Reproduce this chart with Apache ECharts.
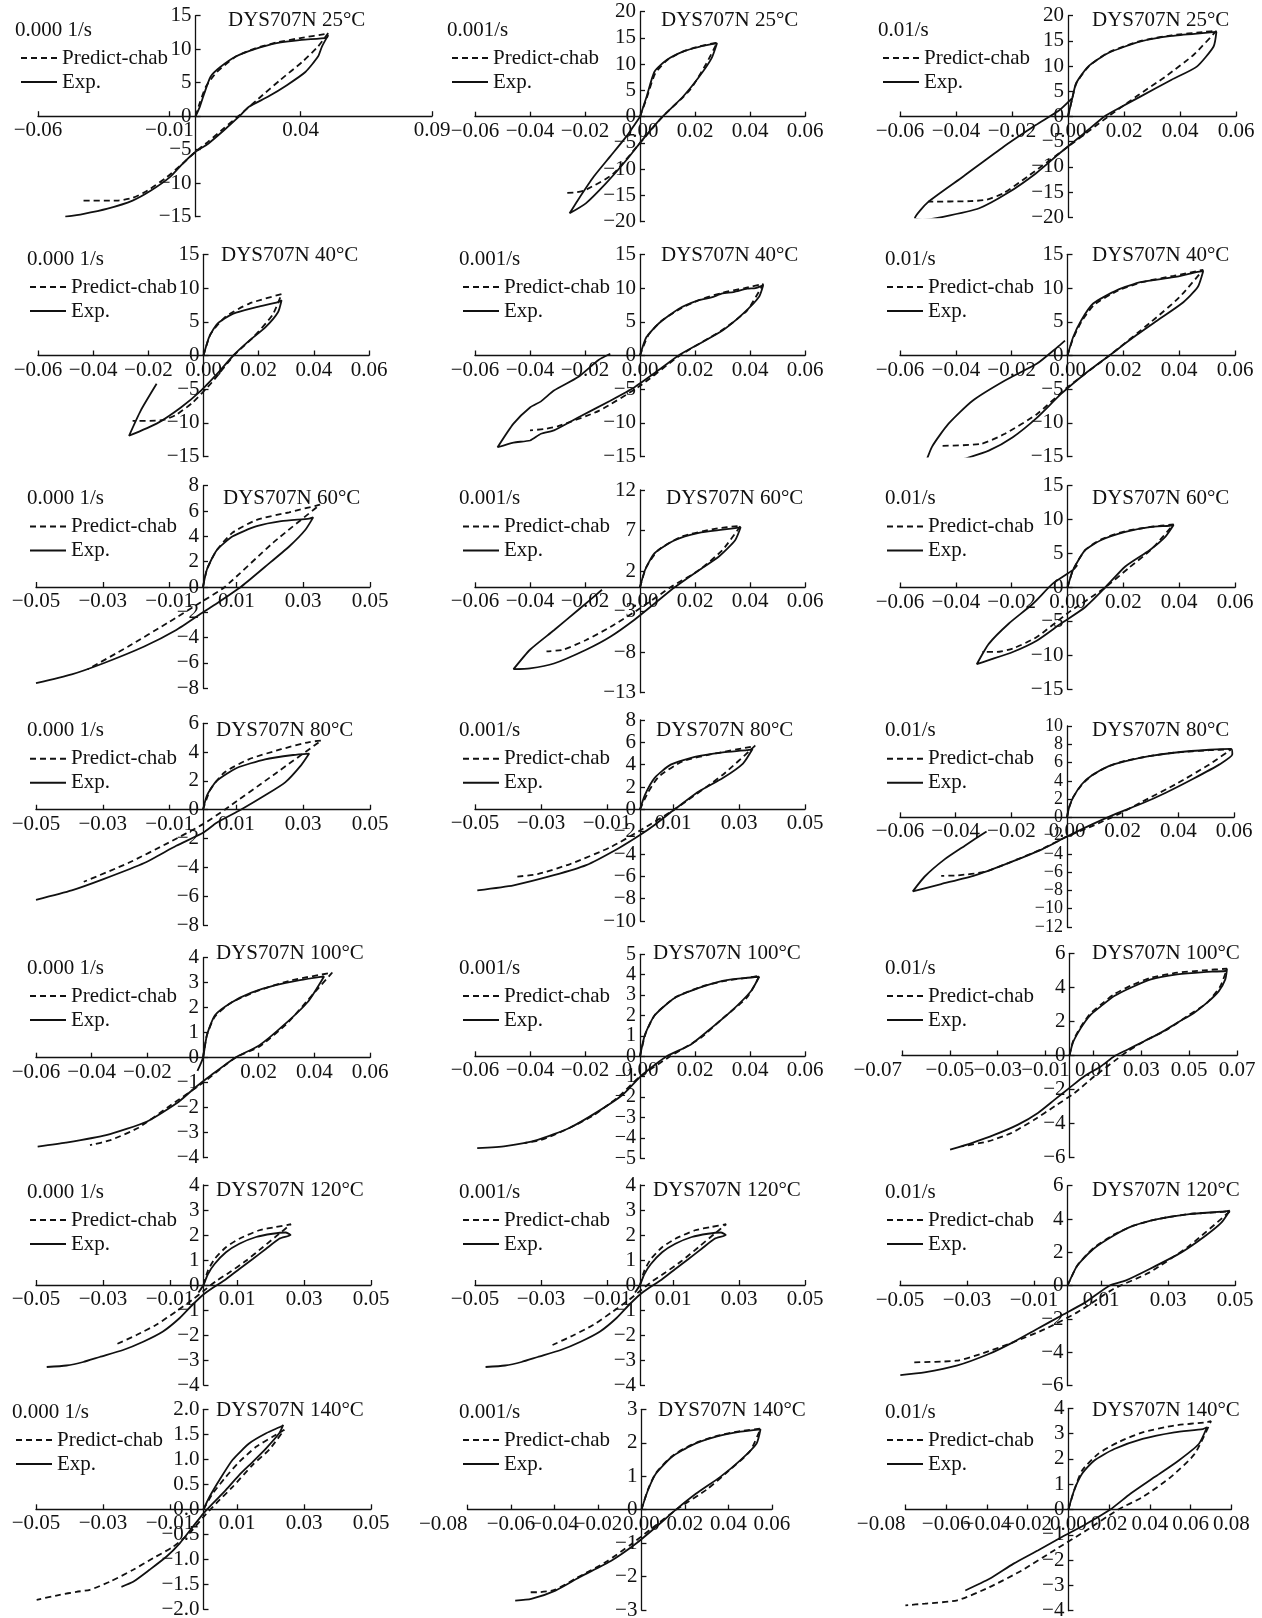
<!DOCTYPE html>
<html>
<head>
<meta charset="utf-8">
<script src="https://cdn.jsdelivr.net/npm/echarts@6/dist/echarts.min.js"></script>
<style>
  html, body { margin: 0; padding: 0; background: #fff; }
  #chart { width: 1262px; height: 1618px; }
</style>
</head>
<body>
<div id="chart"></div>
<script>
// Cyclic stress (MPa) vs strain loops of DYS707N, predicted (Chaboche) and measured.
// Panels run row by row: temperature per row, strain rate per column.

const rates = ['0.000 1/s', '0.001/s', '0.01/s'];
const temps = [25, 40, 60, 80, 100, 120, 140];

// ---- 25 °C ----
const exp11 = [[0,0],[0.0016,1.4],[0.0033,3.4],[0.0057,5.9],[0.0093,7.3],[0.0153,8.9],[0.0225,10],[0.0308,10.9],[0.0404,11.4],[0.0499,11.7],[0.0505,12.1],[0.0481,10.4],[0.0466,8.9],[0.0418,6.6],[0.0346,4.6],[0.0275,2.9],[0.0203,1.4],[0.0167,0],[0.0108,-2.1],[0.0048,-4.1],[0,-5.3],[-0.005,-7.1],[-0.0098,-9.1],[-0.017,-11.1],[-0.024,-12.6],[-0.0335,-13.8],[-0.043,-14.6],[-0.0496,-15]];
const pred11 = [[0,0],[0.0016,2],[0.0039,4.4],[0.0081,6.6],[0.0153,8.9],[0.0225,10.1],[0.0308,11],[0.0404,11.7],[0.0499,12.3],[0.0505,12.4],[0.0466,10.4],[0.0406,8.1],[0.0322,5.4],[0.0239,2.6],[0.0167,0.15],[0.0108,-1.8],[0.0048,-3.8],[0,-5.3],[-0.005,-7.1],[-0.011,-9.1],[-0.0183,-11.1],[-0.024,-12.2],[-0.0299,-12.6],[-0.0442,-12.6]];
const exp12 = [[0,0],[0.0024,3.8],[0.0053,8.6],[0.0097,10.8],[0.0156,12.4],[0.0215,13.3],[0.028,14],[0.026,11.1],[0.0215,7.6],[0.0156,3.8],[0.0082,0],[0.0009,-4.4],[-0.005,-8.3],[-0.0124,-12.7],[-0.0197,-16.5],[-0.0256,-18.4],[-0.0226,-15.9],[-0.0168,-11.4],[-0.0109,-7.6],[-0.005,-3.8],[0,0]];
const pred12 = [[0,0],[0.0024,3.5],[0.0055,8.2],[0.0097,10.7],[0.0156,12.4],[0.0215,13.4],[0.028,14.1],[0.024,10],[0.018,5],[0.0082,0],[0,-5],[-0.01,-11],[-0.02,-14],[-0.023,-14.4],[-0.027,-14.5]];
const exp13 = [[0,0],[0.0014,3.3],[0.0029,6.6],[0.0072,9.9],[0.0144,12.6],[0.026,14.9],[0.037,16],[0.049,16.6],[0.053,16.8],[0.052,13.9],[0.046,9.9],[0.037,7.3],[0.026,4],[0.017,1.3],[0.013,0],[0.0058,-3.3],[-0.003,-7.3],[-0.0115,-11.3],[-0.0216,-15.2],[-0.0317,-18.2],[-0.0446,-19.9],[-0.052,-20.5],[-0.0547,-20.2],[-0.05,-17],[-0.0374,-11.9],[-0.023,-6],[-0.0115,-1.7],[-0.003,1.3],[0.0014,3.6]];
const pred13 = [[0,0],[0.0014,3.3],[0.003,6.6],[0.0075,10],[0.0144,12.7],[0.026,15],[0.037,16.1],[0.049,16.8],[0.053,17],[0.045,12.3],[0.035,8],[0.025,4.2],[0.0144,0],[0,-6],[-0.0144,-11.9],[-0.023,-15.2],[-0.029,-16.5],[-0.035,-16.8],[-0.05,-16.9]];

// ---- 40 °C ----
const exp21 = [[0,0],[0.002,2.7],[0.005,4.7],[0.0108,6.2],[0.0196,7.2],[0.027,7.9],[0.0283,8.2],[0.027,6.4],[0.0225,4.2],[0.0166,2.2],[0.0108,0],[0.005,-2.7],[-0.0009,-5.2],[-0.0082,-7.7],[-0.017,-10.1],[-0.027,-11.9],[-0.0228,-8.2],[-0.017,-4.2]];
const pred21 = [[0,0],[0.0026,3.2],[0.0079,5.7],[0.0166,7.7],[0.0283,9.1],[0.025,6],[0.018,2.7],[0.011,0],[0.003,-4],[-0.004,-7],[-0.01,-8.8],[-0.015,-9.6],[-0.0257,-9.7]];
const exp22 = [[0,0],[0.0023,2.7],[0.0067,4.7],[0.014,6.9],[0.0214,8.2],[0.026,8.6],[0.03,9.2],[0.034,9.4],[0.039,9.9],[0.042,10],[0.0448,10.4],[0.0433,8.7],[0.0375,6.2],[0.03,3.7],[0.0214,1.7],[0.014,0],[0.0067,-2.2],[-0.002,-4.7],[-0.0108,-6.7],[-0.0225,-9.2],[-0.0313,-11.1],[-0.036,-11.6],[-0.04,-12.6],[-0.046,-12.9],[-0.0518,-13.6],[-0.046,-10.1],[-0.04,-7.7],[-0.036,-6.8],[-0.0313,-5.2],[-0.0225,-3.2],[-0.0152,-0.7],[-0.0108,0.25]];
const pred22 = [[0,0],[0.003,3],[0.008,5.2],[0.015,7],[0.022,8.3],[0.03,9.3],[0.038,10],[0.0448,10.6],[0.039,6.7],[0.03,3.8],[0.0145,0],[0,-4.5],[-0.015,-8.2],[-0.03,-10.5],[-0.035,-10.9],[-0.04,-11.1]];
const exp23 = [[0,0],[0.002,2.7],[0.0049,5.2],[0.0092,7.7],[0.0178,9.7],[0.0265,10.9],[0.038,11.6],[0.0466,12.4],[0.0486,12.5],[0.0466,10.1],[0.0409,7.7],[0.0322,5.2],[0.0236,2.7],[0.015,0],[0.0063,-2.7],[-0.0023,-5.7],[-0.0109,-9.2],[-0.0196,-12.1],[-0.0282,-14.1],[-0.0368,-15.3],[-0.045,-16.3],[-0.051,-16.2],[-0.0485,-13.5],[-0.0426,-10.1],[-0.034,-6.7],[-0.0224,-3.7],[-0.0109,-1.2],[-0.0037,1.2],[-0.0009,2.2]];
const pred23 = [[0,0],[0.002,2.5],[0.005,5],[0.0095,7.5],[0.018,9.6],[0.027,10.9],[0.038,11.8],[0.0486,12.7],[0.04,8.6],[0.03,5],[0.015,0],[0,-4.7],[-0.011,-8.7],[-0.0224,-11.6],[-0.031,-13.1],[-0.0455,-13.4]];

// ---- 60 °C ----
const exp31 = [[0,0],[0.0012,1.4],[0.0041,2.9],[0.0089,4],[0.0161,4.8],[0.0234,5.2],[0.0318,5.4],[0.033,5.5],[0.0306,4.5],[0.0258,3.2],[0.0186,1.6],[0.0113,0],[0.0041,-1.3],[0,-2],[-0.008,-3.4],[-0.0176,-4.7],[-0.0296,-6],[-0.0393,-6.9],[-0.05,-7.6]];
const pred31 = [[0,0],[0.0012,1.4],[0.0041,2.9],[0.0089,4.3],[0.0161,5.3],[0.0258,5.9],[0.035,6.5],[0.021,3.5],[0.0065,0],[0,-1.1],[-0.0104,-2.8],[-0.0224,-4.7],[-0.0345,-6.5]];
const exp32 = [[0,0],[0.0018,2.1],[0.0053,4.2],[0.0126,5.8],[0.0214,6.7],[0.03,7.1],[0.0366,7.4],[0.0346,5.8],[0.0287,3.8],[0.0214,2.1],[0.0126,0],[0.0053,-2],[-0.002,-4],[-0.0108,-6.1],[-0.0196,-7.7],[-0.0313,-9.4],[-0.04,-10],[-0.046,-10.1],[-0.04,-7.7],[-0.0313,-5.3],[-0.0225,-2.8],[-0.0138,-0.3]];
const pred32 = [[0,0],[0.0023,2.5],[0.0067,4.6],[0.0155,6.3],[0.0272,7.2],[0.0366,7.6],[0.03,4.6],[0.0214,2.1],[0.0111,0],[0.0009,-2.4],[-0.0108,-4.9],[-0.0196,-6.5],[-0.028,-7.7],[-0.034,-7.9]];
const exp33 = [[0,0],[0.002,2.6],[0.0063,5.5],[0.0121,7],[0.0207,8.2],[0.0294,8.9],[0.0365,9.1],[0.038,9.2],[0.0351,7.5],[0.0294,5.5],[0.0207,3.1],[0.0135,0],[0.0063,-2.9],[-0.0023,-5.3],[-0.0109,-7.8],[-0.0196,-9.5],[-0.0282,-10.7],[-0.0325,-11.3],[-0.0282,-8.3],[-0.021,-5.3],[-0.0124,-2.4],[-0.0052,0.6],[0.002,2.6],[0.0035,3.3]];
const pred33 = [[0,0],[0.002,2.6],[0.0063,5.5],[0.0121,7.1],[0.0207,8.3],[0.0294,8.9],[0.038,9.3],[0.03,5.6],[0.022,2.9],[0.0135,0],[0,-3.8],[-0.011,-7.3],[-0.0196,-9],[-0.0253,-9.5],[-0.0305,-9.5]];

// ---- 80 °C ----
const exp41 = [[0,0],[0.0012,1],[0.0041,2],[0.0101,2.9],[0.0186,3.5],[0.027,3.8],[0.0318,3.9],[0.0294,3.1],[0.0246,1.9],[0.0186,1],[0.0113,0],[0.0041,-0.9],[0,-1.6],[-0.008,-2.5],[-0.0176,-3.7],[-0.0296,-4.8],[-0.0393,-5.6],[-0.05,-6.25]];
const pred41 = [[0,0],[0.0022,1.4],[0.0065,2.6],[0.0137,3.5],[0.0234,4.2],[0.0318,4.7],[0.0354,4.8],[0.021,2.4],[0.0065,0],[0,-1],[-0.0104,-2.3],[-0.0224,-3.7],[-0.0357,-5]];
const exp42 = [[0,0],[0.0015,1.3],[0.0044,2.8],[0.0093,4],[0.0166,4.7],[0.0251,5.1],[0.0324,5.3],[0.0341,5.4],[0.0312,4.1],[0.0251,2.8],[0.0178,1.6],[0.0105,0],[0.0044,-1.4],[0,-2.3],[-0.0066,-3.5],[-0.0163,-5],[-0.0261,-5.9],[-0.0383,-6.8],[-0.0493,-7.25]];
const pred42 = [[0,0],[0.0024,1.5],[0.0056,2.9],[0.0129,4.3],[0.0227,5],[0.0337,5.6],[0.0349,5.7],[0.0251,3.1],[0.0105,0],[0,-1.9],[-0.009,-3.4],[-0.0212,-4.9],[-0.031,-5.8],[-0.038,-6.05]];
const exp43 = [[0,0],[0.0008,1.15],[0.0024,2.3],[0.0054,3.65],[0.009,4.6],[0.015,5.6],[0.0211,6.15],[0.0295,6.7],[0.0392,7.1],[0.0512,7.4],[0.059,7.5],[0.0594,6.9],[0.0548,5.8],[0.0452,4.2],[0.0355,2.7],[0.0271,1.54],[0.0175,0.38],[0.009,-0.77],[0,-2.1],[-0.009,-3.5],[-0.0211,-5],[-0.0331,-6.35],[-0.0452,-7.3],[-0.0554,-8.1],[-0.0512,-6.5],[-0.044,-4.6],[-0.0367,-3.1],[-0.0289,-1.54]];
const pred43 = [[0,0],[0.0008,1.1],[0.0024,2.3],[0.0054,3.6],[0.009,4.6],[0.015,5.6],[0.0211,6.2],[0.0295,6.7],[0.0392,7.1],[0.0512,7.35],[0.059,7.45],[0.0512,5.8],[0.0392,3.65],[0.0271,1.73],[0.0187,0.38],[0.009,-0.96],[0,-2.1],[-0.009,-3.46],[-0.0211,-5],[-0.0295,-5.96],[-0.0392,-6.35],[-0.0452,-6.4]];

// ---- 100 °C ----
const exp51 = [[-0.002,-0.53],[0,0],[0.0014,0.9],[0.0043,1.7],[0.0101,2.2],[0.0174,2.6],[0.0261,2.9],[0.0348,3.1],[0.0435,3.25],[0.0377,2.24],[0.029,1.3],[0.0203,0.5],[0.0116,0],[0.0029,-0.7],[-0.0029,-1.2],[-0.0087,-1.76],[-0.0203,-2.56],[-0.0348,-3.1],[-0.0493,-3.4],[-0.0594,-3.56]];
const pred51 = [[0,0],[0.0014,0.9],[0.0043,1.65],[0.0101,2.2],[0.0203,2.7],[0.0319,3.1],[0.0464,3.4],[0.04,2.6],[0.03,1.35],[0.0203,0.45],[0.0116,0],[0,-1],[-0.0116,-1.9],[-0.0232,-2.8],[-0.0333,-3.3],[-0.0406,-3.5]];
const exp52 = [[0,0],[0.0018,1.06],[0.0053,2],[0.0126,2.86],[0.0214,3.35],[0.03,3.7],[0.039,3.85],[0.0433,3.9],[0.0404,3.2],[0.0331,2.2],[0.0243,1.2],[0.0184,0.57],[0.0097,0],[0.0009,-0.9],[-0.0064,-1.9],[-0.0152,-2.7],[-0.0255,-3.5],[-0.0372,-4.1],[-0.0489,-4.4],[-0.0592,-4.5]];
const pred52 = [[0,0],[0.002,1.1],[0.0055,2.05],[0.013,2.9],[0.022,3.4],[0.031,3.7],[0.039,3.85],[0.0435,3.95],[0.039,2.9],[0.03,1.85],[0.022,0.9],[0.011,0],[0,-1],[-0.008,-2],[-0.017,-2.9],[-0.027,-3.6],[-0.036,-4.1],[-0.042,-4.25]];
const exp53 = [[0,0],[0.0014,0.75],[0.0035,1.33],[0.0062,1.92],[0.009,2.41],[0.0132,2.9],[0.0187,3.49],[0.0256,3.98],[0.034,4.47],[0.045,4.76],[0.0561,4.9],[0.0651,4.96],[0.0658,5.06],[0.0651,4.47],[0.0624,3.78],[0.0575,3.1],[0.052,2.5],[0.045,1.92],[0.0381,1.33],[0.0312,0.84],[0.0243,0.35],[0.0187,-0.04],[0.0132,-0.63],[0.0062,-1.22],[0,-1.9],[-0.0062,-2.59],[-0.0132,-3.37],[-0.0215,-4.06],[-0.0312,-4.65],[-0.0409,-5.14],[-0.0499,-5.53]];
const pred53 = [[0,0],[0.0014,0.8],[0.0035,1.4],[0.0062,2],[0.009,2.5],[0.0132,3],[0.0187,3.6],[0.0256,4.1],[0.034,4.57],[0.045,4.86],[0.0561,5],[0.0658,5.1],[0.0631,4.08],[0.0575,3.1],[0.0492,2.31],[0.0409,1.53],[0.0326,0.94],[0.0243,0.25],[0.0187,-0.33],[0.0104,-1.22],[0.0021,-2.2],[-0.0062,-2.98],[-0.0146,-3.76],[-0.0243,-4.55],[-0.034,-5.04],[-0.045,-5.33]];

// ---- 120 °C ----
const exp61 = [[-0.0015,-0.3],[0,0],[0.0013,0.43],[0.0033,0.84],[0.0067,1.31],[0.0107,1.65],[0.0157,1.92],[0.0206,2.05],[0.0245,2.1],[0.026,2],[0.0226,1.85],[0.0187,1.45],[0.0147,1.04],[0.0107,0.64],[0.0067,0.23],[0.0028,-0.11],[0,-0.38],[-0.0032,-0.78],[-0.0071,-1.32],[-0.0121,-1.86],[-0.018,-2.27],[-0.024,-2.6],[-0.031,-2.88],[-0.0359,-3.08],[-0.0409,-3.22],[-0.0468,-3.28]];
const pred61 = [[0,0],[0.0013,0.57],[0.0033,1.04],[0.0067,1.51],[0.0107,1.85],[0.0167,2.19],[0.0216,2.32],[0.0261,2.43],[0.0226,2.05],[0.0177,1.51],[0.0127,0.97],[0.0077,0.5],[0.0038,0.16],[0,-0.24],[-0.0032,-0.58],[-0.0081,-1.05],[-0.0141,-1.59],[-0.02,-2],[-0.0265,-2.4]];
const exp62 = [[-0.0015,-0.3],[0,0],[0.0013,0.43],[0.0033,0.84],[0.0067,1.31],[0.0107,1.65],[0.0157,1.92],[0.0206,2.05],[0.0245,2.1],[0.026,2],[0.0226,1.85],[0.0187,1.45],[0.0147,1.04],[0.0107,0.64],[0.0067,0.23],[0.0028,-0.11],[0,-0.38],[-0.0032,-0.78],[-0.0071,-1.32],[-0.0121,-1.86],[-0.018,-2.27],[-0.024,-2.6],[-0.031,-2.88],[-0.0359,-3.08],[-0.0409,-3.22],[-0.0468,-3.28]];
const pred62 = [[0,0],[0.0013,0.57],[0.0033,1.04],[0.0067,1.51],[0.0107,1.85],[0.0167,2.19],[0.0216,2.32],[0.0261,2.43],[0.0226,2.05],[0.0177,1.51],[0.0127,0.97],[0.0077,0.5],[0.0038,0.16],[0,-0.24],[-0.0032,-0.58],[-0.0081,-1.05],[-0.0141,-1.59],[-0.02,-2],[-0.0265,-2.4]];
const exp63 = [[0,0],[0.0029,1.2],[0.0077,2.2],[0.0137,3],[0.0197,3.6],[0.0269,4],[0.0364,4.3],[0.046,4.44],[0.0484,4.5],[0.046,3.8],[0.0412,3],[0.034,2],[0.0245,1],[0.0173,0.3],[0.0125,0],[0.0053,-1],[-0.0019,-1.8],[-0.0091,-2.6],[-0.0163,-3.4],[-0.0235,-4.1],[-0.0331,-4.8],[-0.0427,-5.2],[-0.0499,-5.36]];
const pred63 = [[0,0],[0.0029,1.2],[0.0077,2.25],[0.0137,3.05],[0.0197,3.6],[0.0269,4],[0.0364,4.3],[0.0484,4.45],[0.0364,2.4],[0.0245,0.8],[0.0137,-0.2],[0.0029,-1.6],[-0.0067,-2.6],[-0.0163,-3.4],[-0.0259,-4.1],[-0.0331,-4.5],[-0.0463,-4.6]];

// ---- 140 °C ----
const exp71 = [[0,0],[0.0018,0.25],[0.0048,0.59],[0.0087,0.99],[0.0137,1.32],[0.0187,1.52],[0.0236,1.67],[0.0238,1.69],[0.0226,1.52],[0.0187,1.22],[0.0147,0.95],[0.0107,0.69],[0.0067,0.39],[0.0028,0.12],[0,-0.08],[-0.0032,-0.35],[-0.0071,-0.68],[-0.0111,-0.95],[-0.0161,-1.21],[-0.021,-1.45],[-0.0245,-1.55]];
const pred71 = [[0,0],[0.0028,0.32],[0.0067,0.65],[0.0107,0.95],[0.0157,1.25],[0.0206,1.45],[0.0241,1.59],[0.0197,1.2],[0.0147,0.89],[0.0087,0.45],[0.0038,0.12],[0,-0.15],[-0.0042,-0.48],[-0.0091,-0.75],[-0.0151,-0.98],[-0.021,-1.21],[-0.028,-1.45],[-0.0339,-1.61],[-0.0379,-1.65],[-0.0429,-1.71],[-0.0498,-1.81]];
const exp72 = [[0,0],[0.003,0.58],[0.0067,1.08],[0.0141,1.58],[0.0233,1.93],[0.0344,2.18],[0.0456,2.33],[0.0548,2.4],[0.053,1.98],[0.0456,1.48],[0.0363,0.98],[0.0252,0.48],[0.0159,0],[0.0067,-0.52],[-0.0026,-1.02],[-0.0137,-1.52],[-0.0285,-2.02],[-0.0396,-2.42],[-0.0507,-2.67],[-0.0581,-2.72]];
const pred72 = [[0,0],[0.003,0.6],[0.0067,1.1],[0.0141,1.6],[0.0233,1.95],[0.0344,2.2],[0.0456,2.35],[0.0548,2.42],[0.05,1.75],[0.04,1.15],[0.03,0.6],[0.016,0],[0.005,-0.55],[-0.005,-1.05],[-0.016,-1.55],[-0.03,-2.05],[-0.04,-2.4],[-0.048,-2.47],[-0.0526,-2.47]];
const exp73 = [[0,0],[0.0028,0.75],[0.0067,1.41],[0.0126,1.93],[0.0225,2.39],[0.0364,2.79],[0.052,3.05],[0.066,3.18],[0.068,3.25],[0.064,2.59],[0.054,1.93],[0.0423,1.28],[0.0304,0.62],[0.0206,0],[0.0087,-0.57],[-0.0032,-1.09],[-0.015,-1.62],[-0.0269,-2.14],[-0.0387,-2.74],[-0.0506,-3.2]];
const pred73 = [[0,0],[0.0028,0.75],[0.0067,1.54],[0.0146,2.2],[0.0245,2.66],[0.0364,3.05],[0.052,3.32],[0.068,3.45],[0.07,3.49],[0.062,2.2],[0.0502,1.28],[0.0364,0.49],[0.0245,0],[0.0087,-0.83],[-0.0071,-1.62],[-0.0229,-2.41],[-0.0387,-3.07],[-0.0545,-3.59],[-0.0704,-3.72],[-0.08,-3.79]];

const expSets = [exp11, exp12, exp13, exp21, exp22, exp23, exp31, exp32, exp33, exp41, exp42, exp43, exp51, exp52, exp53, exp61, exp62, exp63, exp71, exp72, exp73];
const predSets = [pred11, pred12, pred13, pred21, pred22, pred23, pred31, pred32, pred33, pred41, pred42, pred43, pred51, pred52, pred53, pred61, pred62, pred63, pred71, pred72, pred73];

// Axis ticks: [min, max, interval]
const xTicks = [
  [-0.06, 0.09, 0.05], [-0.06, 0.06, 0.02], [-0.06, 0.06, 0.02],
  [-0.06, 0.06, 0.02], [-0.06, 0.06, 0.02], [-0.06, 0.06, 0.02],
  [-0.05, 0.05, 0.02], [-0.06, 0.06, 0.02], [-0.06, 0.06, 0.02],
  [-0.05, 0.05, 0.02], [-0.05, 0.05, 0.02], [-0.06, 0.06, 0.02],
  [-0.06, 0.06, 0.02], [-0.06, 0.06, 0.02], [-0.07, 0.07, 0.02],
  [-0.05, 0.05, 0.02], [-0.05, 0.05, 0.02], [-0.05, 0.05, 0.02],
  [-0.05, 0.05, 0.02], [-0.08, 0.06, 0.02], [-0.08, 0.08, 0.02]
];
const yTicks = [
  [-15, 15, 5], [-20, 20, 5], [-20, 20, 5],
  [-15, 15, 5], [-15, 15, 5], [-15, 15, 5],
  [-8, 8, 2], [-13, 12, 5], [-15, 15, 5],
  [-8, 6, 2], [-10, 8, 2], [-12, 10, 2],
  [-4, 4, 1], [-5, 5, 1], [-6, 6, 2],
  [-4, 4, 1], [-4, 4, 1], [-6, 6, 2],
  [-2, 2, 0.5], [-3, 3, 1], [-4, 4, 1]
];

// ---- layout (pixels) ----
// plot rectangle of each panel: [left, top, width, height]
const plotRects = [
  [38, 15.7, 394, 201], [475, 11.7, 330, 210], [900, 15.7, 336, 201.6],
  [38, 254.3, 331, 202.4], [475, 254.3, 330, 202.4], [900, 254.3, 335, 202.4],
  [36, 485.7, 334, 202.6], [475, 490, 330, 202.7], [900, 485.7, 335, 203.6],
  [36, 723.3, 334, 201.7], [475, 720, 330, 201], [900, 726, 334, 201],
  [36, 957.7, 334, 200], [475, 954.3, 330, 204], [902, 953.3, 335, 204.4],
  [36, 1185, 335, 200], [475, 1185, 330, 200], [900, 1185.7, 335, 200],
  [36, 1409.3, 335, 200], [467.6, 1409.3, 304.2, 200.7], [905.4, 1408.3, 326, 202.4]
];
// tick label font size per panel (the densest stress axis gets a smaller size)
const xLabelSize = [21,21,21, 21,21,21, 21,21,21, 21,21,21, 21,21,21, 21,21,21, 21,21,21];
const yLabelSize = [21,21,21, 21,21,21, 21,21,21, 21,21,18, 21,20,21, 21,21,21, 21,21,21];
// strain axes whose first label sits left of its tick, clear of the next one
const xMinLabelRight = [false,false,false, false,false,false, false,false,false, false,false,false, false,false,true, false,false,false, false,true,true];
const rowRateY = [30, 259, 498.5, 730.7, 968, 1192, 1412];
const rowTitleY = [20.6, 255.5, 498.5, 730.7, 953.6, 1190, 1410];
const rateLeft = [[15, 447, 878], [27, 459, 885], [27, 459, 885], [27, 459, 885], [27, 459, 885], [27, 459, 885], [12, 459, 885]];
const keyLeft = [[20, 451, 882], [29, 462, 886], [29, 462, 886], [29, 462, 886], [29, 462, 886], [29, 462, 886], [15, 462, 886]];
const titleLeft = [[228, 661, 1092], [221, 661, 1092], [223, 666, 1092], [216, 656, 1092], [216, 653, 1092], [216, 653, 1092], [216, 658, 1092]];

const FONT = "'Liberation Serif', 'Times New Roman', serif";
const INK = '#111';
const FS = 21;

function fmt(v, digits, hideZero) {
  if (Math.abs(v) < 1e-9) {
    if (hideZero) return '';
    v = 0;
  }
  return v.toFixed(digits).replace('-', '\u2212');
}

const grids = [], xAxes = [], yAxes = [], series = [], legends = [], titles = [];

for (let i = 0; i < 21; i++) {
  const row = Math.floor(i / 3), col = i % 3;
  const r = plotRects[i];
  grids.push({ left: r[0], top: r[1], width: r[2], height: r[3], containLabel: false, outerBoundsMode: 'none' });

  const xt = xTicks[i], yt = yTicks[i];
  // the axes cross at the origin: shift each one from its plot edge to zero
  const xShift = r[3] * (-yt[0]) / (yt[1] - yt[0]);
  const yShift = r[2] * (-xt[0]) / (xt[1] - xt[0]);
  const axisLine = { onZero: false, lineStyle: { color: INK, width: 1.3 } };
  const axisTick = { inside: true, length: 5, lineStyle: { color: INK, width: 1.3 } };
  const labelBase = { fontFamily: FONT, color: INK, showMinLabel: true, showMaxLabel: true, hideOverlap: false };
  const hideX0 = (i === 12);
  const xLabel = Object.assign({ margin: 4, fontSize: xLabelSize[i], formatter: v => fmt(v, 2, hideX0) }, labelBase);
  if (xMinLabelRight[i]) xLabel.alignMinLabel = 'right';
  xAxes.push({
    gridIndex: i, type: 'value', position: 'bottom', offset: -xShift,
    min: xt[0], max: xt[1], interval: xt[2],
    axisLine, axisTick, splitLine: { show: false },
    axisLabel: xLabel
  });
  const yDigits = yt[2] < 1 ? 1 : 0;
  yAxes.push({
    gridIndex: i, type: 'value', position: 'left', offset: -yShift,
    min: yt[0], max: yt[1], interval: yt[2],
    axisLine, axisTick, splitLine: { show: false },
    axisLabel: Object.assign({ margin: 4, fontSize: yLabelSize[i], formatter: v => fmt(v, yDigits, false) }, labelBase)
  });

  series.push({
    name: 'Predict-chab', type: 'line', xAxisIndex: i, yAxisIndex: i,
    data: predSets[i], symbol: 'none', smooth: 0.2, silent: true,
    itemStyle: { color: INK },
    lineStyle: { color: INK, width: 1.8, type: [6, 4] }
  });
  series.push({
    name: 'Exp.', type: 'line', xAxisIndex: i, yAxisIndex: i,
    data: expSets[i], symbol: 'none', smooth: 0.2, silent: true,
    itemStyle: { color: INK },
    lineStyle: { color: INK, width: 1.8, type: 'solid' }
  });

  legends.push({
    data: ['Predict-chab', 'Exp.'], orient: 'vertical', selectedMode: false,
    left: keyLeft[row][col], top: rowRateY[row] + 28 - 10.5,
    itemWidth: 36, itemHeight: 14, itemGap: 3, padding: 0,
    itemStyle: { opacity: 0 },
    textStyle: { fontFamily: FONT, fontSize: FS, color: INK, lineHeight: 21 }
  });

  titles.push({
    text: rates[col], left: rateLeft[row][col], top: rowRateY[row] - 10.5, padding: 0,
    textStyle: { fontFamily: FONT, fontSize: FS, fontWeight: 'normal', color: INK, lineHeight: 21 }
  });
  titles.push({
    text: 'DYS707N ' + temps[row] + '\u00b0C', left: titleLeft[row][col], top: rowTitleY[row] - 10.5, padding: 0,
    textStyle: { fontFamily: FONT, fontSize: FS, fontWeight: 'normal', color: INK, lineHeight: 21 }
  });
}

const chart = echarts.init(document.getElementById('chart'), null, { renderer: 'canvas' });
chart.setOption({
  animation: false,
  backgroundColor: '#fff',
  title: titles,
  legend: legends,
  grid: grids,
  xAxis: xAxes,
  yAxis: yAxes,
  series: series
});
</script>
</body>
</html>
